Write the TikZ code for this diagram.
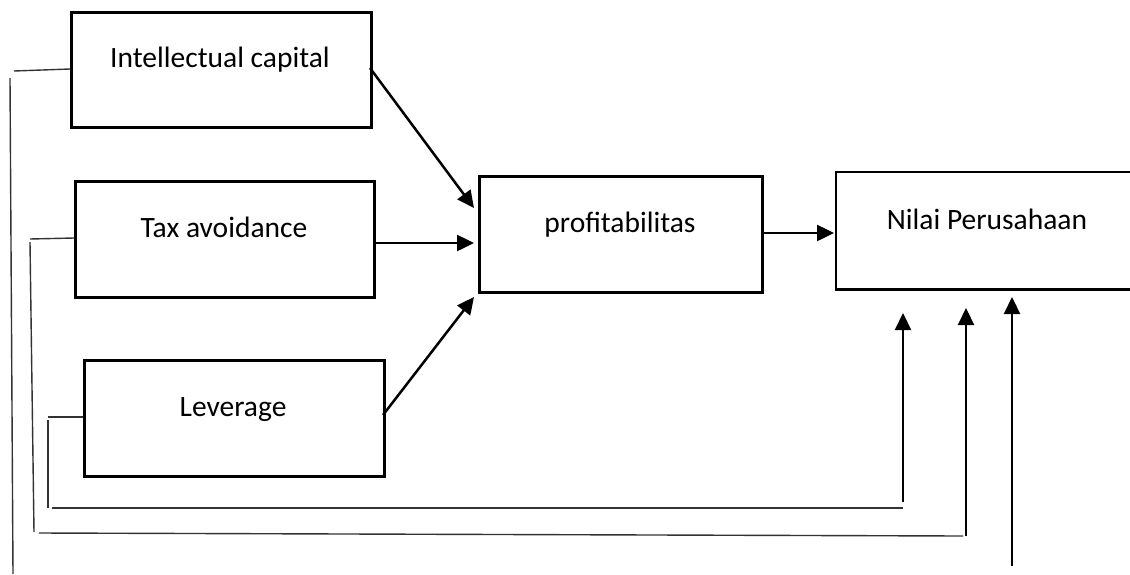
\documentclass[tikz,border=0pt]{standalone}
\usepackage{fontspec}
\setmainfont{Carlito}
\usetikzlibrary{arrows.meta}
\begin{document}
\begin{tikzpicture}[x=1pt,y=-1pt,
  boxnode/.style={draw=black,line width=2.8pt,rectangle,inner sep=0pt,anchor=north west},
  lbl/.style={font=\fontsize{29.5}{34}\selectfont,anchor=base,inner sep=0pt},
  arr/.style={line width=2.5pt,-{Triangle[length=17pt,width=16pt]}},
  thin/.style={line width=1.4pt,draw=black!80}]
\useasboundingbox (0,0) rectangle (1130,574);
\clip (0,0) rectangle (1130,574);
% boxes
\node[boxnode,minimum width=300pt,minimum height=115pt] (ic) at (70,11) {};
\node[boxnode,minimum width=299pt,minimum height=116pt] (tax) at (74,180) {};
\node[boxnode,minimum width=300pt,minimum height=116pt] (lev) at (83,359) {};
\node[boxnode,minimum width=283pt,minimum height=116pt] (prof) at (478,175) {};
\node[boxnode,draw=none,minimum width=320pt,minimum height=115pt] (np) at (836,172) {};
\draw[line width=2.8pt] (np.north east) -- (np.north west) -- (np.south west) -- (np.south east);
% labels
\node[lbl] (icl) at (220,67) {Intellectual capital};
\node[lbl] (taxl) at (224,237) {Tax avoidance};
\node[lbl] (levl) at (233,416) {Leverage};
\node[lbl] (profl) at (620,232) {profitabilitas};
\node[lbl] (npl) at (987,229) {Nilai Perusahaan};
% main arrows
\coordinate (a1s) at (370,68);
\coordinate (a1e) at (474,208);
\draw[arr] (a1s) -- (a1e);
\coordinate (a2s) at (376,243);
\coordinate (a2e) at (474,243);
\draw[arr] (a2s) -- (a2e);
\coordinate (a3s) at (383,415);
\coordinate (a3e) at (474,297);
\draw[arr] (a3s) -- (a3e);
\coordinate (a4s) at (761,233);
\coordinate (a4e) at (834,233);
\draw[arr] (a4s) -- (a4e);
% feedback lines: intellectual capital
\coordinate (c1a) at (70,69);
\coordinate (c1b) at (14,71);
\coordinate (c1c) at (10,78);
\coordinate (c1d) at (13,574);
\draw[thin] (c1a) -- (c1b);
\draw[thin] (c1c) -- (c1d);
\coordinate (c1s) at (1012,566);
\coordinate (c1t) at (1012,297);
\draw[arr,line width=2.2pt] (c1s) -- (c1t);
% tax avoidance
\coordinate (c2a) at (74,238);
\coordinate (c2b) at (30,239);
\coordinate (c2c) at (30,242);
\coordinate (c2d) at (34,532);
\coordinate (c2e) at (39,533);
\coordinate (c2f) at (963,536);
\coordinate (c2s) at (966,536);
\coordinate (c2t) at (966,308);
\draw[thin] (c2a) -- (c2b);
\draw[thin] (c2c) -- (c2d);
\draw[thin] (c2e) -- (c2f);
\draw[arr,line width=2.2pt] (c2s) -- (c2t);
% leverage
\coordinate (c3a) at (83,417);
\coordinate (c3b) at (48,417);
\coordinate (c3c) at (48,420);
\coordinate (c3d) at (48,508);
\coordinate (c3e) at (52,508);
\coordinate (c3f) at (903,508);
\coordinate (c3s) at (903,502);
\coordinate (c3t) at (903,313);
\draw[thin] (c3a) -- (c3b);
\draw[thin] (c3c) -- (c3d);
\draw[thin] (c3e) -- (c3f);
\draw[arr,line width=2.2pt] (c3s) -- (c3t);
\end{tikzpicture}
\end{document}
